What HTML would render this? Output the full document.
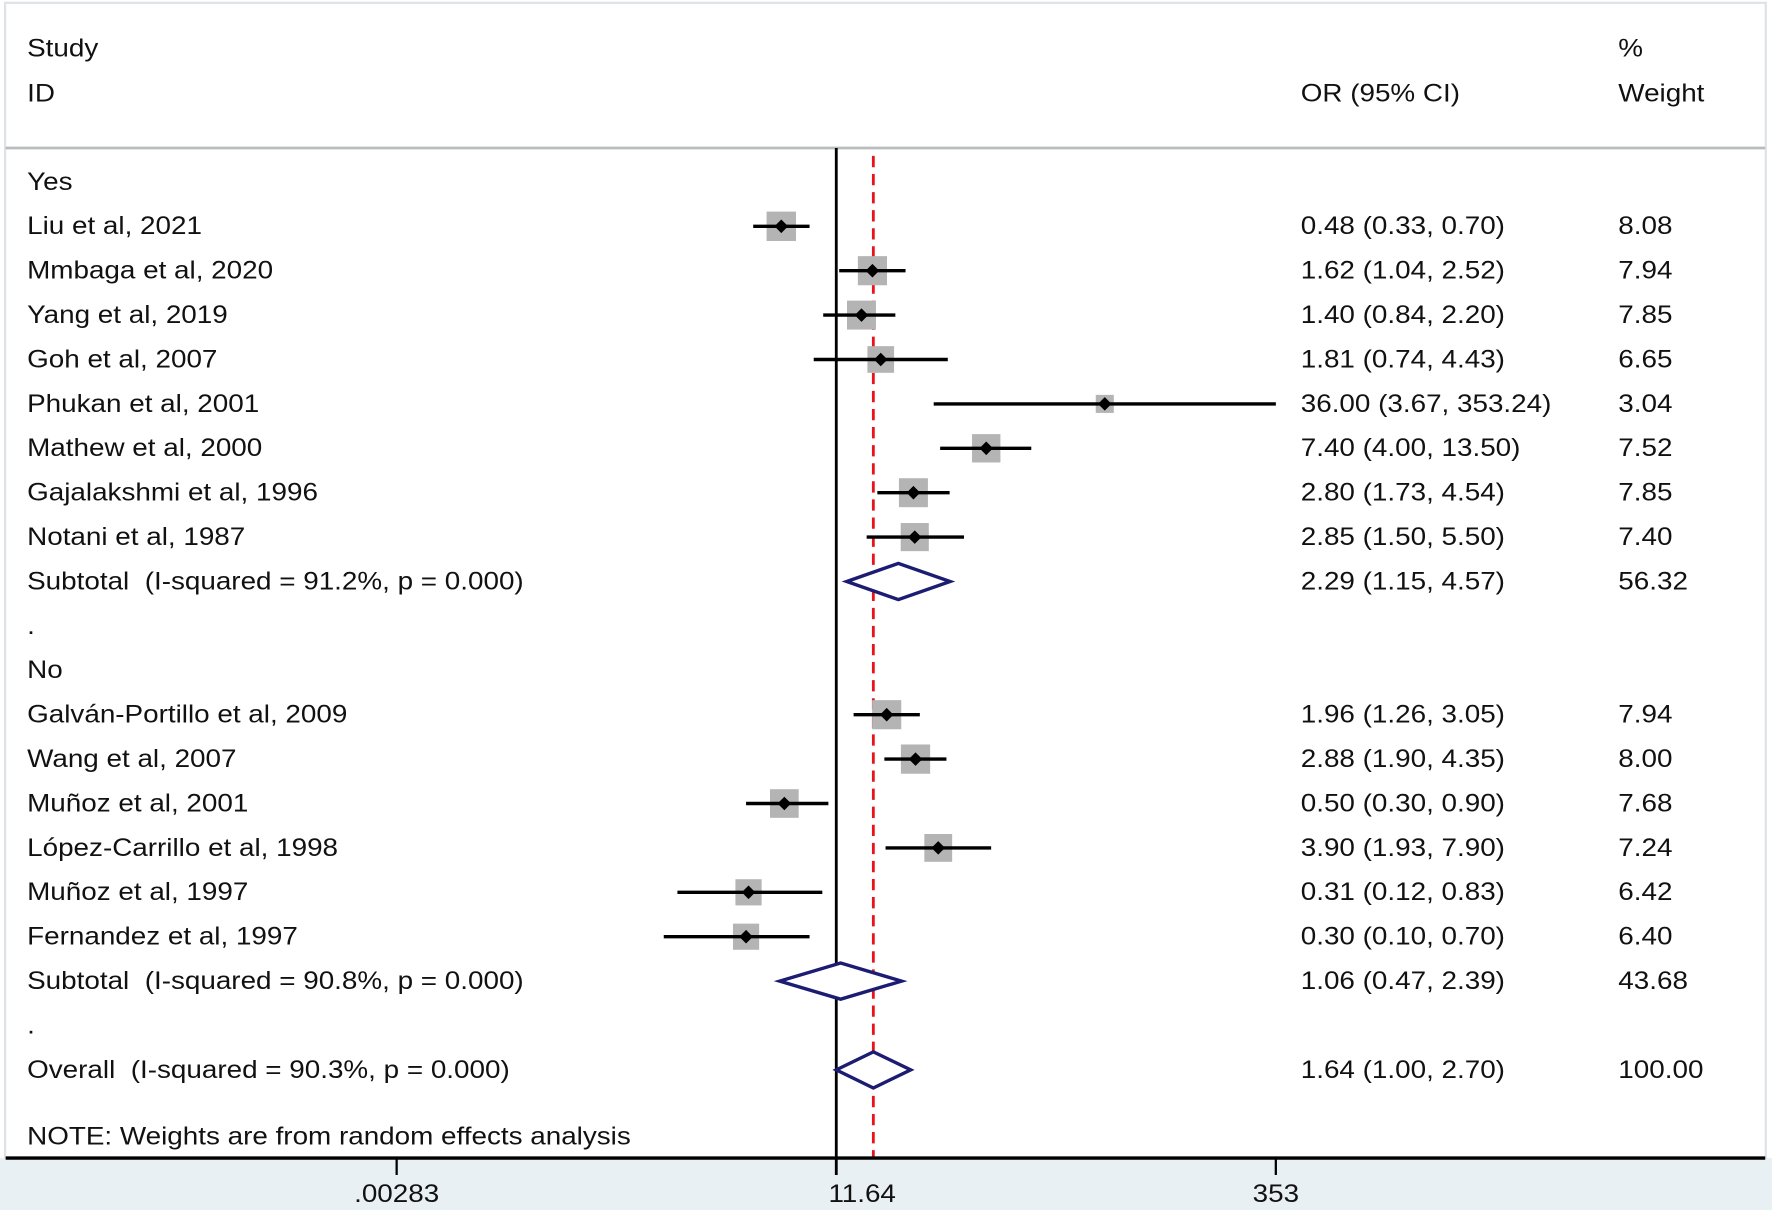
<!DOCTYPE html>
<html><head><meta charset="utf-8"><style>
html,body{margin:0;padding:0;background:#fff;}
svg{display:block;}
text{font-family:"Liberation Sans",Arial,sans-serif;font-size:22px;fill:#111;white-space:pre;}
</style></head><body>
<svg id="chart" width="1772" height="1210" viewBox="0 0 1568 1071" preserveAspectRatio="none" xmlns="http://www.w3.org/2000/svg">
<rect x="0" y="0" width="1568" height="1071" fill="#fff"/>
<rect x="0" y="1025" width="1568" height="46" fill="#e9f0f3"/>
<rect x="4.5" y="2.5" width="1558" height="1022" fill="none" stroke="#dde3e6" stroke-width="2"/>
<line x1="5" y1="131" x2="1562" y2="131" stroke="#b9bcbe" stroke-width="2.5"/>
<text transform="translate(24,50) scale(1.12,1)">Study</text>
<text transform="translate(24,90) scale(1.12,1)">ID</text>
<text transform="translate(1151,90) scale(1.12,1)">OR (95% CI)</text>
<text transform="translate(1432,50) scale(1.12,1)">%</text>
<text transform="translate(1432,90) scale(1.12,1)">Weight</text>
<g id="marks"></g>
</svg>
<script>
const labels = ["Yes","Liu et al, 2021","Mmbaga et al, 2020","Yang et al, 2019","Goh et al, 2007","Phukan et al, 2001","Mathew et al, 2000","Gajalakshmi et al, 1996","Notani et al, 1987","Subtotal  (I-squared = 91.2%, p = 0.000)",".","No","Galván-Portillo et al, 2009","Wang et al, 2007","Muñoz et al, 2001","López-Carrillo et al, 1998","Muñoz et al, 1997","Fernandez et al, 1997","Subtotal  (I-squared = 90.8%, p = 0.000)",".","Overall  (I-squared = 90.3%, p = 0.000)"];
const rowType = ["h","s","s","s","s","s","s","s","s","d","h","h","s","s","s","s","s","s","d","h","d"];
const orValues = [null,0.48,1.62,1.40,1.81,36.00,7.40,2.80,2.85,2.29,null,null,1.96,2.88,0.50,3.90,0.31,0.30,1.06,null,1.64];
const lowerCI = [null,0.33,1.04,0.84,0.74,3.67,4.00,1.73,1.50,1.15,null,null,1.26,1.90,0.30,1.93,0.12,0.10,0.47,null,1.00];
const upperCI = [null,0.70,2.52,2.20,4.43,353.24,13.50,4.54,5.50,4.57,null,null,3.05,4.35,0.90,7.90,0.83,0.70,2.39,null,2.70];
const weights = [null,8.08,7.94,7.85,6.65,3.04,7.52,7.85,7.40,56.32,null,null,7.94,8.00,7.68,7.24,6.42,6.40,43.68,null,100.00];
const ciText = ["","0.48 (0.33, 0.70)","1.62 (1.04, 2.52)","1.40 (0.84, 2.20)","1.81 (0.74, 4.43)","36.00 (3.67, 353.24)","7.40 (4.00, 13.50)","2.80 (1.73, 4.54)","2.85 (1.50, 5.50)","2.29 (1.15, 4.57)","","","1.96 (1.26, 3.05)","2.88 (1.90, 4.35)","0.50 (0.30, 0.90)","3.90 (1.93, 7.90)","0.31 (0.12, 0.83)","0.30 (0.10, 0.70)","1.06 (0.47, 2.39)","","1.64 (1.00, 2.70)"];
const weightText = ["","8.08","7.94","7.85","6.65","3.04","7.52","7.85","7.40","56.32","","","7.94","8.00","7.68","7.24","6.42","6.40","43.68","","100.00"];
const tickValues = [0.00283,1,353];
const tickLabels = [".00283","1","353"];
const overallOR = 1.64;

const NS="http://www.w3.org/2000/svg";
const g=document.getElementById('marks');
const xScale=v=>740+66.3*Math.log(v);
const yScale=i=>161+i*39.3;
function mk(tag,attrs){const e=document.createElementNS(NS,tag);for(const k in attrs)e.setAttribute(k,attrs[k]);g.appendChild(e);return e;}
function txt(x,y,s,anchor){const e=mk('text',{transform:`translate(${x},${y}) scale(1.12,1)`});if(anchor)e.setAttribute('text-anchor',anchor);e.textContent=s;return e;}

let e=mk('line',{x1:xScale(1),y1:131,x2:xScale(1),y2:1040,stroke:'#000','stroke-width':2.5});


e=mk('line',{x1:xScale(overallOR),y1:138,x2:xScale(overallOR),y2:1025,stroke:'#e8141c','stroke-width':2.5,'stroke-dasharray':'10,6'});



labels.forEach((lab,i)=>{
  const y=yScale(i);
  let t=txt(24,y+7,lab);
  
  
  if(ciText[i]){t=txt(1151,y+7,ciText[i]);
    
    }
  if(weightText[i]){t=txt(1432,y+7,weightText[i]);
    
    }
  if(rowType[i]==='s'){
    const xc=xScale(orValues[i]),s=9.15*Math.sqrt(weights[i]);
    let b=mk('rect',{x:xc-s/2,y:y-s/2,width:s,height:s,fill:'#b4b4b4'});
    
    
    let l=mk('line',{x1:xScale(lowerCI[i]),y1:y,x2:xScale(upperCI[i]),y2:y,stroke:'#000','stroke-width':3});
    
    
    let p=mk('polygon',{points:`${xc-6},${y} ${xc},${y-6} ${xc+6},${y} ${xc},${y+6}`,fill:'#000'});
    
    
  } else if(rowType[i]==='d'){
    const a=xScale(lowerCI[i]),m=xScale(orValues[i]),c=xScale(upperCI[i]);
    let d=mk('polygon',{points:`${a},${y} ${m},${y-16} ${c},${y} ${m},${y+16}`,fill:'#fff',stroke:'#1c1c72','stroke-width':3});
    
    
  }
});
let n=txt(24,1013,'NOTE: Weights are from random effects analysis');


e=mk('line',{x1:5,y1:1025,x2:1562,y2:1025,stroke:'#000','stroke-width':3});


tickValues.forEach((v,i)=>{
  const x=xScale(v);
  let tk=mk('line',{x1:x,y1:1025,x2:x,y2:1040,stroke:'#000','stroke-width':2});
  
  
  if(i!==1){let tl=txt(x,1064,tickLabels[i],'middle');
    
    }
});
let tl=txt(xScale(1),1064,tickLabels[1],'middle');


tl=txt(xScale(overallOR)-4,1064,overallOR.toFixed(2),'middle');


</script>
</body></html>
